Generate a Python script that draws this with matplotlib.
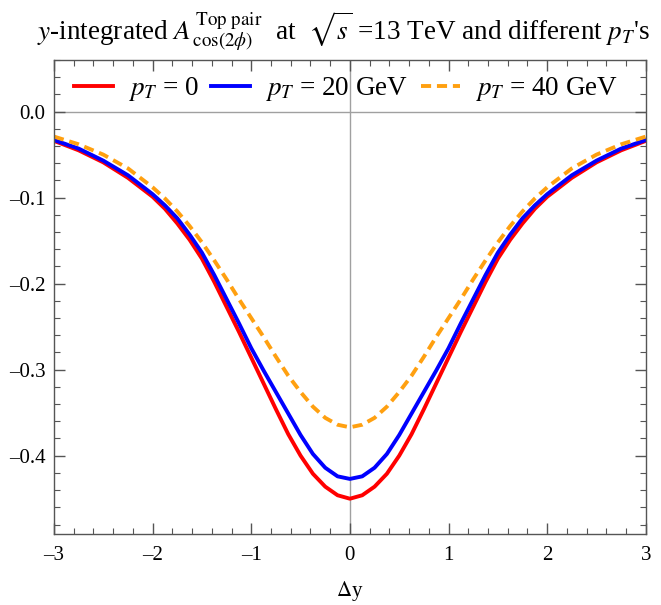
import matplotlib.pyplot as plt
from matplotlib.ticker import MultipleLocator

plt.rcParams['font.family'] = ['Liberation Serif', 'DejaVu Serif']
plt.rcParams['mathtext.fontset'] = 'stix'

# Значения
dy = [-3.0, -2.75, -2.5, -2.25, -2.0, -1.875, -1.75, -1.625, -1.5, -1.375, -1.25, -1.125,
      -1.0, -0.875, -0.75, -0.625, -0.5, -0.375, -0.25, -0.125, 0.0, 0.125, 0.25, 0.375,
      0.5, 0.625, 0.75, 0.875, 1.0, 1.125, 1.25, 1.375, 1.5, 1.625, 1.75, 1.875, 2.0,
      2.25, 2.5, 2.75, 3.0]
a_pt0 = [-0.034, -0.045, -0.059, -0.077, -0.099, -0.113, -0.130, -0.149, -0.171, -0.198,
         -0.227, -0.256, -0.286, -0.316, -0.346, -0.375, -0.400, -0.421, -0.436, -0.446,
         -0.450, -0.446, -0.436, -0.421, -0.400, -0.375, -0.346, -0.316, -0.286, -0.256,
         -0.227, -0.198, -0.171, -0.149, -0.130, -0.113, -0.099, -0.077, -0.059, -0.045,
         -0.034]
a_pt20 = [-0.033, -0.043, -0.057, -0.074, -0.096, -0.109, -0.124, -0.143, -0.164, -0.190,
          -0.218, -0.246, -0.275, -0.301, -0.326, -0.351, -0.376, -0.398, -0.414, -0.424,
          -0.427, -0.424, -0.414, -0.398, -0.376, -0.351, -0.326, -0.301, -0.275, -0.246,
          -0.218, -0.190, -0.164, -0.143, -0.124, -0.109, -0.096, -0.074, -0.057, -0.043,
          -0.033]
a_pt40 = [-0.029, -0.038, -0.050, -0.066, -0.088, -0.101, -0.116, -0.133, -0.152, -0.173,
          -0.195, -0.218, -0.240, -0.262, -0.285, -0.307, -0.326, -0.343, -0.356, -0.364,
          -0.367, -0.364, -0.356, -0.343, -0.326, -0.307, -0.285, -0.262, -0.240, -0.218,
          -0.195, -0.173, -0.152, -0.133, -0.116, -0.101, -0.088, -0.066, -0.050, -0.038,
          -0.029]

fig = plt.figure(figsize=(6.61, 6.05), dpi=100)
ax = fig.add_axes([0.0817, 0.1174, 0.8953, 0.7834])

ax.axhline(0, color='#a0a0a0', linewidth=1.0, zorder=1)
ax.axvline(0, color='#a0a0a0', linewidth=1.0, zorder=1)

ax.plot(dy, a_pt0, color='#ff0000', linewidth=2.8, label=r'$p_T$ = 0')
ax.plot(dy, a_pt20, color='#0000ff', linewidth=2.8, label=r'$p_T$ = 20 GeV')
ax.plot(dy, a_pt40, color='#ffa010', linewidth=2.8, linestyle=(0, (2.6, 1.5)),
        label=r'$p_T$ = 40 GeV')

ax.set_xlim(-3, 3)
ax.set_ylim(-0.491, 0.06)
ax.xaxis.set_major_locator(MultipleLocator(1))
ax.xaxis.set_minor_locator(MultipleLocator(0.2))
ax.yaxis.set_major_locator(MultipleLocator(0.1))
ax.yaxis.set_minor_locator(MultipleLocator(0.02))
ax.xaxis.set_major_formatter(lambda v, p: f'{v:.0f}'.replace('-', '\u2013'))
ax.yaxis.set_major_formatter(lambda v, p: f'{v:.1f}'.replace('-', '\u2013') if abs(v) > 1e-9 else '0.0')

ax.tick_params(which='both', direction='in', top=True, right=True, colors='#555555',
               labelcolor='black', labelsize=15)
ax.tick_params(which='major', length=8, width=1)
ax.tick_params(which='minor', length=4.5, width=0.8)
ax.tick_params(axis='x', pad=9)
ax.tick_params(axis='y', pad=6)
for s in ax.spines.values():
    s.set_color('#555555')
    s.set_linewidth(1.0)

ax.set_xlabel(r'$\Delta$y', fontsize=15, labelpad=10)
fig.suptitle(r"$y$-integrated $A^{\,\mathrm{Top\ pair}}_{\,\cos(2\phi)}$  at  $\sqrt{s}$ =13 TeV and different $p_T$'s",
             fontsize=19.5, x=0.52, y=0.985)

ax.legend(loc='center left', bbox_to_anchor=(74 / 661, 1 - 89 / 605),
          bbox_transform=fig.transFigure, ncol=3, frameon=False,
          fontsize=19.5, handlelength=1.45, handletextpad=0.55, columnspacing=0.45,
          borderpad=0, borderaxespad=0)

plt.savefig('out.png', dpi=100)
